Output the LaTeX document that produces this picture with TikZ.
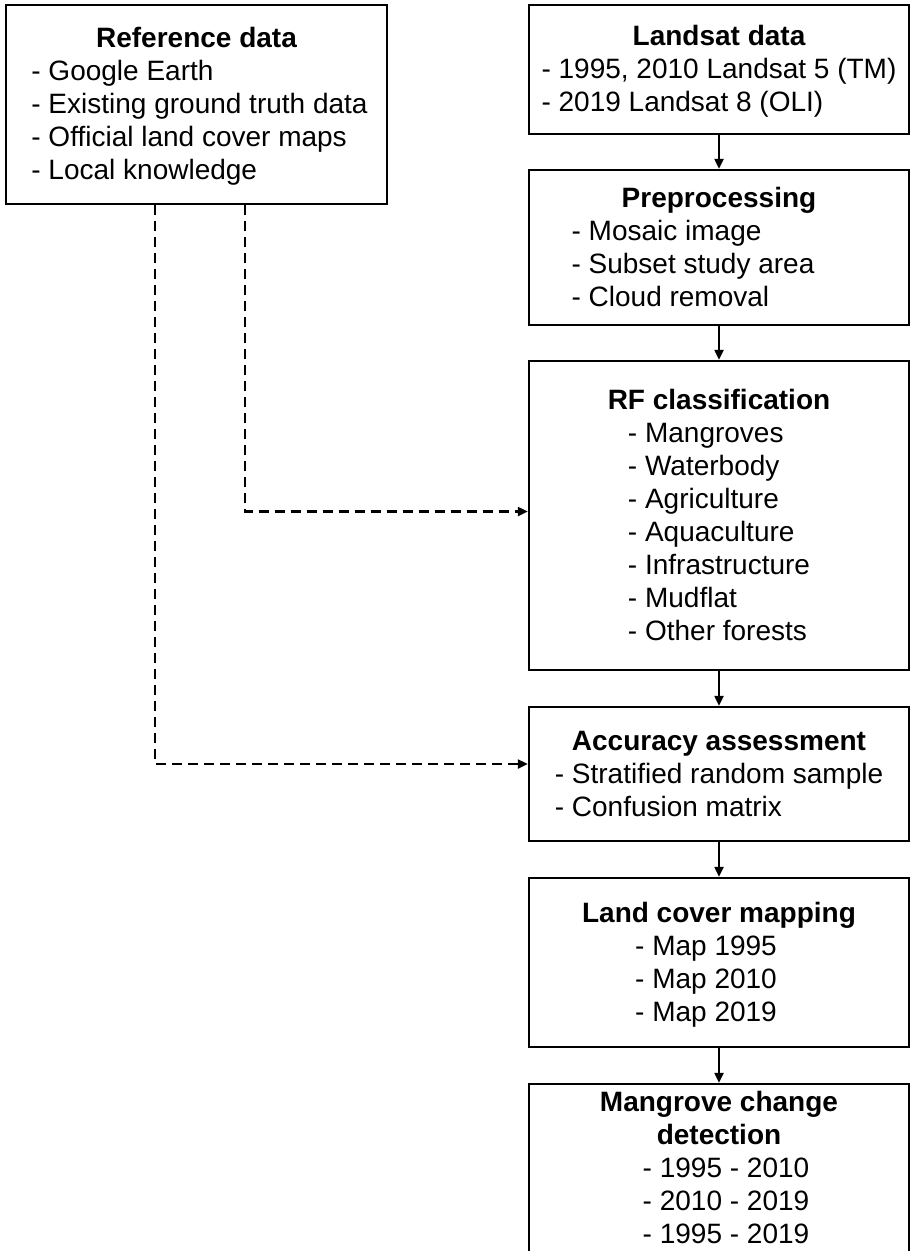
\documentclass[tikz,border=0pt]{standalone}
\usepackage{fontspec}
\setmainfont{Liberation Sans}
\usetikzlibrary{arrows.meta}
\newcommand{\stagetext}[3][0pt]{{\bfseries\rule{0pt}{28pt}#2}\\\hspace*{#1}\begin{tabular}[t]{@{}l@{}}#3\end{tabular}}
\begin{document}
\begin{tikzpicture}[
        x = 1pt, y = -1pt,
        stage/.style = {draw, line width=2.4pt, minimum width=380pt, inner sep=0pt,
                        align=center, font=\fontsize{28}{33}\selectfont},
        flow/.style = {line width=2.2pt, -{Triangle[length=10pt,width=9pt]}},
        refline/.style = {flow, dash pattern=on 10pt off 6pt}]
      \useasboundingbox (0,0) rectangle (910,1251);
      \node[stage, minimum width=381pt, minimum height=199pt] (ref) at (196.5,104.5)
        {\stagetext[6pt]{Reference data}{- Google Earth\\- Existing ground truth data\\- Official land cover maps\\- Local knowledge}};
      \node[stage, minimum height=129pt] (landsat) at (719,69.5)
        {\stagetext{Landsat data}{- 1995, 2010 Landsat 5 (TM)\\- 2019 Landsat 8 (OLI)}};
      \node[stage, minimum height=155pt] (pre) at (719,247.5)
        {\stagetext[-52pt]{Preprocessing}{- Mosaic image\\- Subset study area\\- Cloud removal}};
      \node[stage, minimum height=309pt] (rf) at (719,515.5)
        {\stagetext{RF classification}{- Mangroves\\- Waterbody\\- Agriculture\\- Aquaculture\\- Infrastructure\\- Mudflat\\- Other forests}};
      \node[stage, minimum height=134pt] (acc) at (719,774)
        {\stagetext{Accuracy assessment}{- Stratified random sample\\- Confusion matrix}};
      \node[stage, minimum height=169pt] (map) at (719,962.5)
        {\stagetext[-26pt]{Land cover mapping}{- Map 1995\\- Map 2010\\- Map 2019}};
      \node[stage, minimum height=174pt] (change) at (719,1171)
        {\stagetext[14pt]{\begin{tabular}[b]{@{}c@{}}Mangrove change\\detection\end{tabular}}{- 1995 - 2010\\- 2010 - 2019\\- 1995 - 2019}};
      \draw[flow] (landsat) -- (pre);
      \draw[flow] (pre) -- (rf);
      \draw[flow] (rf) -- (acc);
      \draw[flow] (acc) -- (map);
      \draw[flow] (map) -- (change);
      \coordinate (refacc) at ([xshift=150pt]ref.south west);
      \coordinate (refrf) at ([xshift=240pt]ref.south west);
      \draw[refline] (refrf) |- ([yshift=4pt]rf.west);
      \draw[refline] (refacc) |- ([yshift=10pt]acc.west);
    \end{tikzpicture}
\end{document}
